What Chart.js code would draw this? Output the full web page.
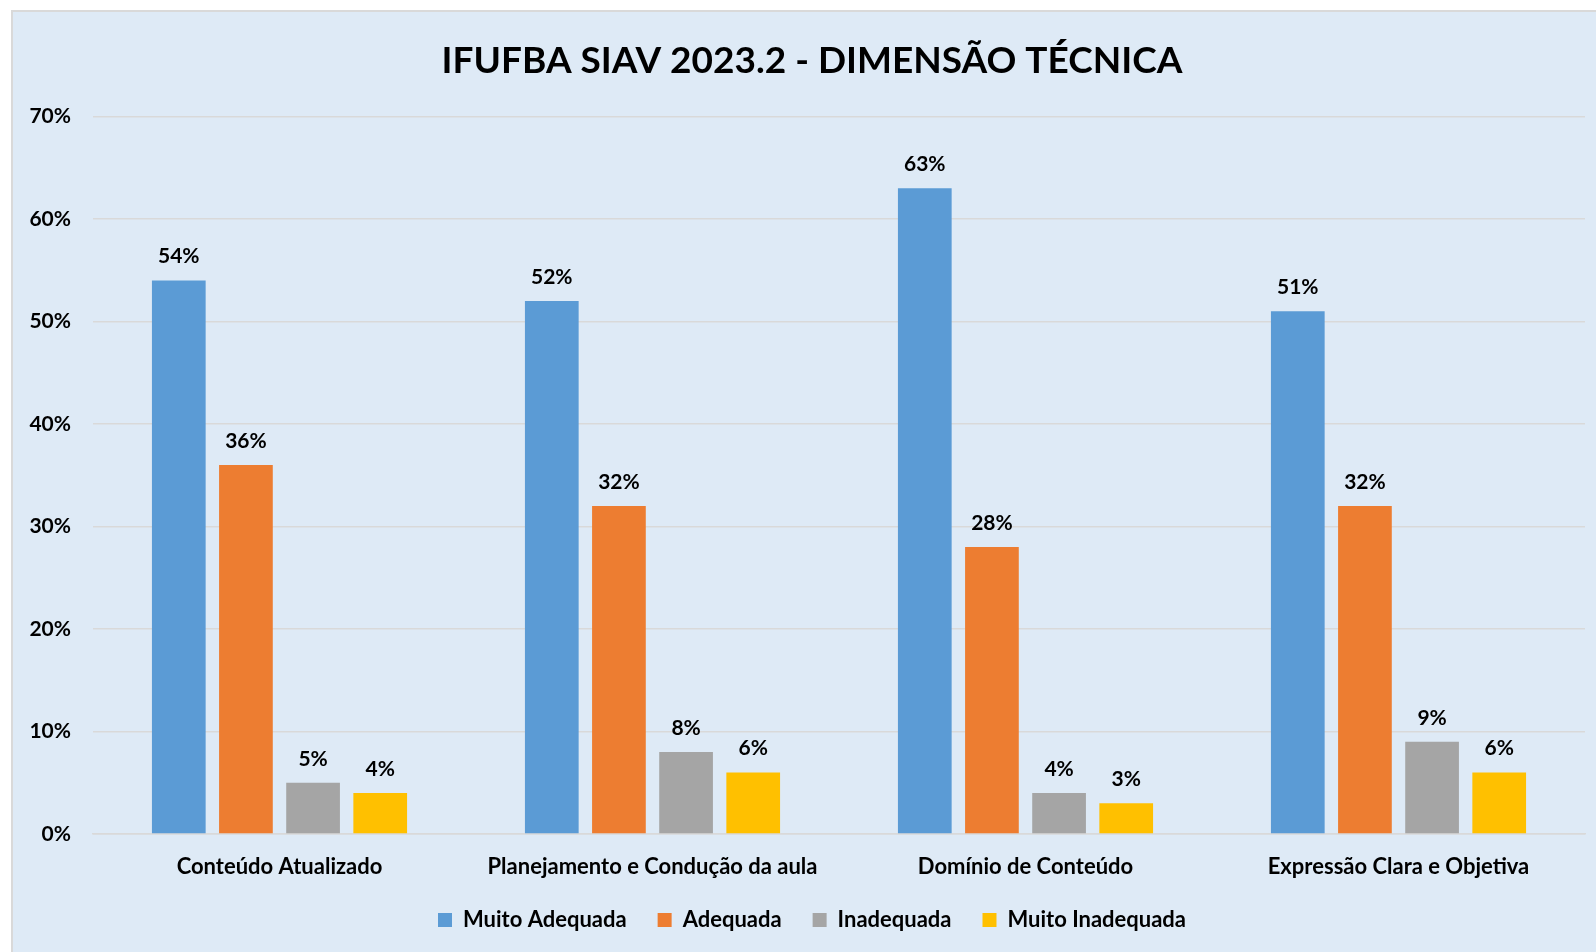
<!DOCTYPE html>
<html>
<head>
<meta charset="utf-8">
<script src="https://cdn.jsdelivr.net/npm/chart.js@4/dist/chart.umd.min.js"></script>
<style>
    html, body { margin: 0; padding: 0; background: #fff; }
    #box {
        position: absolute;
        left: 11px;
        top: 10px;
        width: 1585px;
        height: 942px;
        background: #DEEAF6;
        border-top: 2px solid #D9D9D9;
        border-left: 2px solid #D9D9D9;
        box-sizing: border-box;
    }
</style>
</head>
<body>
<div id="box"><canvas id="techChart"></canvas></div>
<script>
// Chart data
const categories = ['Conteúdo Atualizado', 'Planejamento e Condução da aula', 'Domínio de Conteúdo', 'Expressão Clara e Objetiva'];
const seriesNames = ['Muito Adequada', 'Adequada', 'Inadequada', 'Muito Inadequada'];
const muitoAdequada = [54, 52, 63, 51];
const adequada = [36, 32, 28, 32];
const inadequada = [5, 8, 4, 9];
const muitoInadequada = [4, 6, 3, 6];
const yTicks = [0, 10, 20, 30, 40, 50, 60, 70];

const colors = ['#5B9BD5', '#ED7D31', '#A5A5A5', '#FFC000'];
const FONT = 'Lato, "Open Sans", sans-serif';

// Draws the value labels above each bar
const valueLabels = {
    id: 'valueLabels',
    afterDatasetsDraw(chart) {
        const ctx = chart.ctx;
        ctx.save();
        ctx.font = 'bold 21px ' + FONT;
        ctx.fillStyle = '#000';
        ctx.textAlign = 'center';
        ctx.textBaseline = 'alphabetic';
        chart.data.datasets.forEach((ds, i) => {
            chart.getDatasetMeta(i).data.forEach((bar, j) => {
                ctx.fillText(ds.data[j] + '%', bar.x, bar.y - 17);
            });
        });
        ctx.restore();
    }
};

const ctx = document.getElementById('techChart').getContext('2d');

new Chart(ctx, {
    type: 'bar',
    data: {
        labels: categories,
        datasets: [muitoAdequada, adequada, inadequada, muitoInadequada].map((values, i) => ({
            label: seriesNames[i],
            data: values,
            backgroundColor: colors[i],
            borderWidth: 0,
            barPercentage: 0.8,
            categoryPercentage: 0.72
        }))
    },
    options: {
        responsive: true,
        maintainAspectRatio: false,
        animation: false,
        layout: {
            padding: { left: 26, right: 11, top: 0, bottom: 11 }
        },
        scales: {
            y: {
                min: 0,
                max: 70,
                afterBuildTicks: (scale) => {
                    scale.ticks = yTicks.map(v => ({ value: v }));
                },
                afterFit: (scale) => {
                    scale.width = 54;
                    // let the tick labels run past the narrow axis box
                    scale._computeLabelArea = () => null;
                },
                ticks: {
                    color: '#000',
                    padding: 22,
                    font: { family: FONT, size: 21, weight: 'bold' },
                    callback: (v) => v + '%'
                },
                grid: {
                    color: '#D9D9D9',
                    lineWidth: 1.5,
                    drawTicks: false
                },
                border: { display: false }
            },
            x: {
                afterFit: (scale) => {
                    scale.height = 44;
                },
                grid: { display: false, drawTicks: false },
                border: { color: '#D9D9D9', width: 1.5 },
                ticks: {
                    color: '#000',
                    padding: 22,
                    font: { family: FONT, size: 22, weight: 'bold', lineHeight: 1 }
                }
            }
        },
        plugins: {
            title: {
                display: true,
                text: 'IFUFBA SIAV 2023.2 - DIMENSÃO TÉCNICA',
                color: '#000',
                font: { family: FONT, size: 37, weight: 'bold' },
                padding: { top: 27, bottom: 33 }
            },
            legend: {
                position: 'bottom',
                labels: {
                    color: '#000',
                    boxWidth: 14,
                    boxHeight: 14,
                    padding: 31,
                    font: { family: FONT, size: 22, weight: 'bold', lineHeight: 1 }
                }
            },
            tooltip: { enabled: false }
        }
    },
    plugins: [valueLabels]
});
</script>
</body>
</html>
